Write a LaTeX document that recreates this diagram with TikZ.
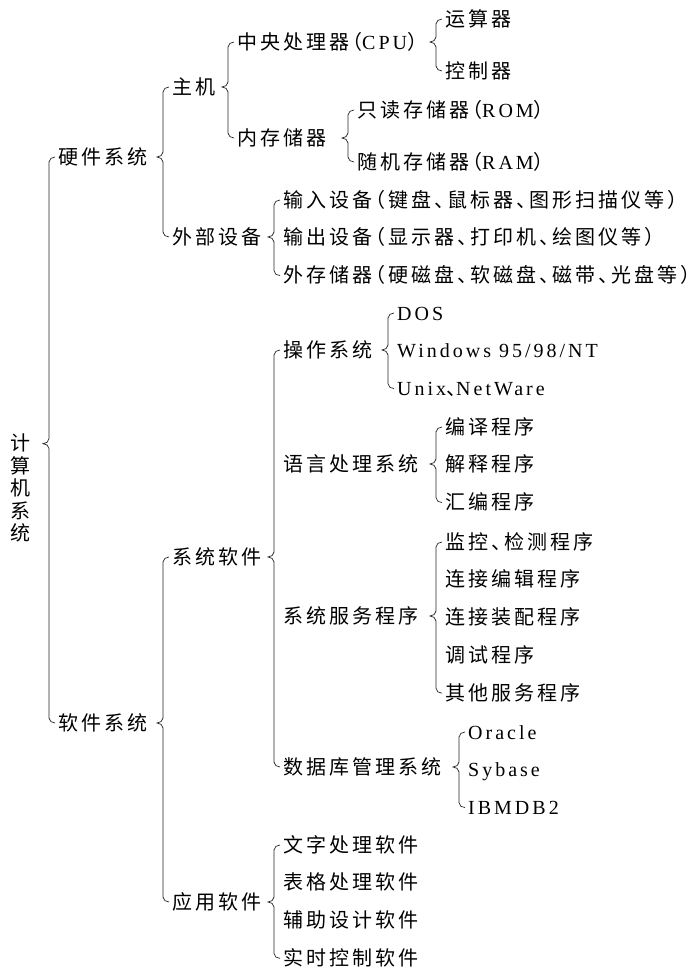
\documentclass[tikz,border=0pt]{standalone}
\usepackage{fontspec}
\setmainfont{Liberation Serif}[LetterSpace=15]
\newfontfamily\cjk{Noto Sans CJK SC}[LetterSpace=15, RawFeature=+halt]
\usetikzlibrary{positioning}

% curly bracket from a parent to its first and last child
\newcommand\branch[3]{%
  \path ([xshift=-9pt]#2.west) coordinate (bt)
        ([xshift=-9pt]#3.west) coordinate (bb)
        (bt |- #1) coordinate (bm);
  \draw[curly] ([xshift=-3pt]#2.west) to[out=180,in=90] ([yshift=-5pt]bt)
        -- ([yshift=5pt]bm) to[out=-90,in=0] ([xshift=-6pt]bm)
        to[out=0,in=90] ([yshift=-5pt]bm) -- ([yshift=5pt]bb)
        to[out=-90,in=180] ([xshift=-3pt]#3.west);}

\begin{document}
\begin{tikzpicture}[x=1pt, y=-1pt, node distance=37.8pt,
                item/.style={anchor=west, inner xsep=0pt, inner ysep=0pt, text height=17pt, text depth=3pt, font=\fontsize{20}{23}\selectfont},
                curly/.style={draw=black!85, line width=0.7pt},
                ]
                \useasboundingbox (0,0) rectangle (700,970);
                %Nodes
                \node[font=\cjk\fontsize{20}{22.5}\selectfont, align=center, inner sep=0pt] (root) at (20,488) {计\\算\\机\\系\\统};
                \coordinate (rootc) at ([yshift=-10pt]root.north east);
                \node[item]        (hw)        at (58,157)      {\cjk 硬件系统};
                \node[item]        (sw)        at (58,723)      {\cjk 软件系统};

                % hardware
                \node[item]        (host)      at (172,87)      {\cjk 主机};
                \node[item]        (periph)    at (172,237)     {\cjk 外部设备};
                \node[item]        (cpu)       at (237,42)      {{\cjk 中央处理器（}CPU{\cjk ）}};
                \node[item]        (mem)       at (237,138)     {\cjk 内存储器};
                \node[item]        (alu)       at (445,19)      {\cjk 运算器};
                \node[item]        (ctl)       at (445,71)      {\cjk 控制器};
                \node[item]        (rom)       at (357,110)     {{\cjk 只读存储器（}ROM{\cjk ）}};
                \node[item]        (ram)       at (357,162)     {{\cjk 随机存储器（}RAM{\cjk ）}};
                \node[item]        (indev)     at (283,200)     {\cjk 输入设备（键盘、鼠标器、图形扫描仪等）};
                \node[item]        (outdev)    [below=of indev.west, anchor=west]  {\cjk 输出设备（显示器、打印机、绘图仪等）};
                \node[item]        (extmem)    [below=of outdev.west, anchor=west] {\cjk 外存储器（硬磁盘、软磁盘、磁带、光盘等）};

                % software
                \node[item]        (syssw)     at (172,557)     {\cjk 系统软件};
                \node[item]        (appsw)     at (172,902)     {\cjk 应用软件};
                \node[item]        (os)        at (283,350)     {\cjk 操作系统};
                \node[item]        (lang)      at (283,464)     {\cjk 语言处理系统};
                \node[item]        (svc)       at (283,616)     {\cjk 系统服务程序};
                \node[item]        (db)        at (283,767)     {\cjk 数据库管理系统};
                \node[item]        (dos)       at (397,313)     {DOS};
                \node[item]        (win)       [below=of dos.west, anchor=west]   {Windows 95/98/NT};
                \node[item]        (unix)      [below=of win.west, anchor=west]   {Unix{\cjk 、}NetWare};
                \node[item]        (comp)      at (445,427)     {\cjk 编译程序};
                \node[item]        (interp)    [below=of comp.west, anchor=west]  {\cjk 解释程序};
                \node[item]        (asm)       [below=of interp.west, anchor=west] {\cjk 汇编程序};
                \node[item]        (mon)       at (445,542)     {\cjk 监控、检测程序};
                \node[item]        (link)      [below=of mon.west, anchor=west]   {\cjk 连接编辑程序};
                \node[item]        (load)      [below=of link.west, anchor=west]  {\cjk 连接装配程序};
                \node[item]        (debug)     [below=of load.west, anchor=west]  {\cjk 调试程序};
                \node[item]        (other)     [below=of debug.west, anchor=west] {\cjk 其他服务程序};
                \node[item]        (oracle)    at (468,732)     {Oracle};
                \node[item]        (sybase)    [below=of oracle.west, anchor=west] {Sybase};
                \node[item]        (ibm)       [below=of sybase.west, anchor=west] {IBMDB2};
                \node[item]        (word)      at (283,845)     {\cjk 文字处理软件};
                \node[item]        (sheet)     [below=of word.west, anchor=west]  {\cjk 表格处理软件};
                \node[item]        (cad)       [below=of sheet.west, anchor=west] {\cjk 辅助设计软件};
                \node[item]        (rt)        [below=of cad.west, anchor=west]   {\cjk 实时控制软件};

                %Lines
                \branch{rootc}{hw}{sw}
                \branch{hw}{host}{periph}
                \branch{host}{cpu}{mem}
                \branch{cpu}{alu}{ctl}
                \branch{mem}{rom}{ram}
                \branch{periph}{indev}{extmem}
                \branch{sw}{syssw}{appsw}
                \branch{syssw}{os}{db}
                \branch{os}{dos}{unix}
                \branch{lang}{comp}{asm}
                \branch{svc}{mon}{other}
                \branch{db}{oracle}{ibm}
                \branch{appsw}{word}{rt}
\end{tikzpicture}
\end{document}
